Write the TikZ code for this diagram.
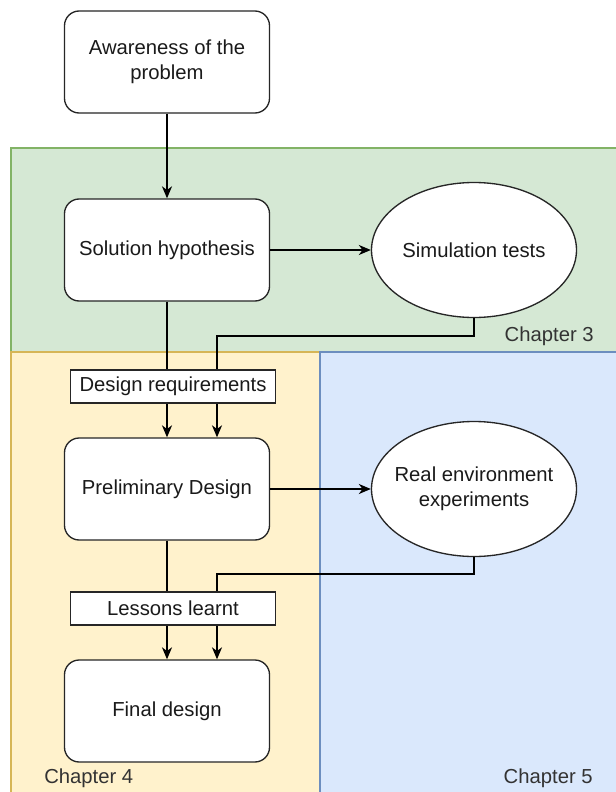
\documentclass[tikz,border=0pt]{standalone}
\usepackage{fontspec}
\setmainfont{Liberation Sans}
\usetikzlibrary{shapes.geometric,arrows.meta}
\definecolor{greenfill}{HTML}{D5E8D4}
\definecolor{greenline}{HTML}{82B366}
\definecolor{yellowfill}{HTML}{FFF2CC}
\definecolor{yellowline}{HTML}{D6B656}
\definecolor{bluefill}{HTML}{DAE8FC}
\definecolor{blueline}{HTML}{6C8EBF}
\definecolor{txt}{HTML}{1A1A1A}
\definecolor{lbl}{HTML}{333333}
\begin{document}
\begin{tikzpicture}[x=0.75pt,y=-0.75pt,
  every node/.style={font=\fontsize{15.2}{18.5}\selectfont, text=txt},
  stepbox/.style={draw=black!85, fill=white, line width=1pt, rounded corners=11pt,
    minimum width=153.75pt, minimum height=76.5pt, align=center, inner sep=0pt},
  ovalbox/.style={draw=black!85, fill=white, line width=1pt, ellipse,
    minimum width=153.75pt, minimum height=101.25pt, inner sep=0pt},
  ovaltext/.style={align=center, inner sep=0pt},
  tagbox/.style={draw=black!85, fill=white, line width=1pt,
    minimum width=153.75pt, minimum height=24.75pt, inner sep=0pt},
  region/.style={line width=0.8pt},
  chap/.style={text=lbl, inner sep=0pt},
  conn/.style={draw=black, line width=1.4pt},
  arr/.style={conn, -{Stealth[length=9pt, width=7.5pt, inset=2.8pt]}}
]
\useasboundingbox (0,0) rectangle (615,792);
% regions
\fill[greenfill] (11,148) rectangle (618,352);
\draw[region, greenline] (618,148) -- (11,148) -- (11,352);
\fill[yellowfill] (11,352) rectangle (320,796);
\draw[region, yellowline] (11,796) -- (11,352) -- (320,352) -- (320,796);
\fill[bluefill] (320,352) rectangle (618,796);
\draw[region, blueline] (320,796) -- (320,352) -- (618,352);

\node[chap, anchor=east] (c3) at (594,336) {Chapter 3};
\node[chap, anchor=west] (c4) at (44,778) {Chapter 4};
\node[chap, anchor=east] (c5) at (593,778) {Chapter 5};

% main nodes
\node[stepbox] (aw) at (167,62) {Awareness of the\\problem};
\node[stepbox] (sol) at (167,250) {Solution hypothesis};
\node[ovalbox, label={[ovaltext]center:Simulation tests}] (sim) at (474,250) {};
\node[stepbox] (pre) at (167,489) {Preliminary Design};
\node[ovalbox, label={[ovaltext]center:{Real environment\\experiments}}] (real) at (474,489) {};
\node[stepbox] (fin) at (167,711) {Final design};

% connectors
\draw[arr] (aw.south) -- (sol.north);
\draw[arr] (sol.east) -- (sim.west);
\draw[arr] (pre.east) -- (real.west);
\draw[arr] (sol.south) -- (pre.north);
\coordinate (s1) at (474,336);
\coordinate (s2) at (217,336);
\draw[arr] (sim.south) -- (s1) -- (s2) -- (s2 |- pre.north);
\draw[arr] (pre.south) -- (fin.north);
\coordinate (r1) at (474,574);
\coordinate (r2) at (217,574);
\draw[arr] (real.south) -- (r1) -- (r2) -- (r2 |- fin.north);

% label boxes over connectors
\node[tagbox] (req) at (173,386.5) {Design requirements};
\node[tagbox] (les) at (173,608.5) {Lessons learnt};
\end{tikzpicture}
\end{document}
